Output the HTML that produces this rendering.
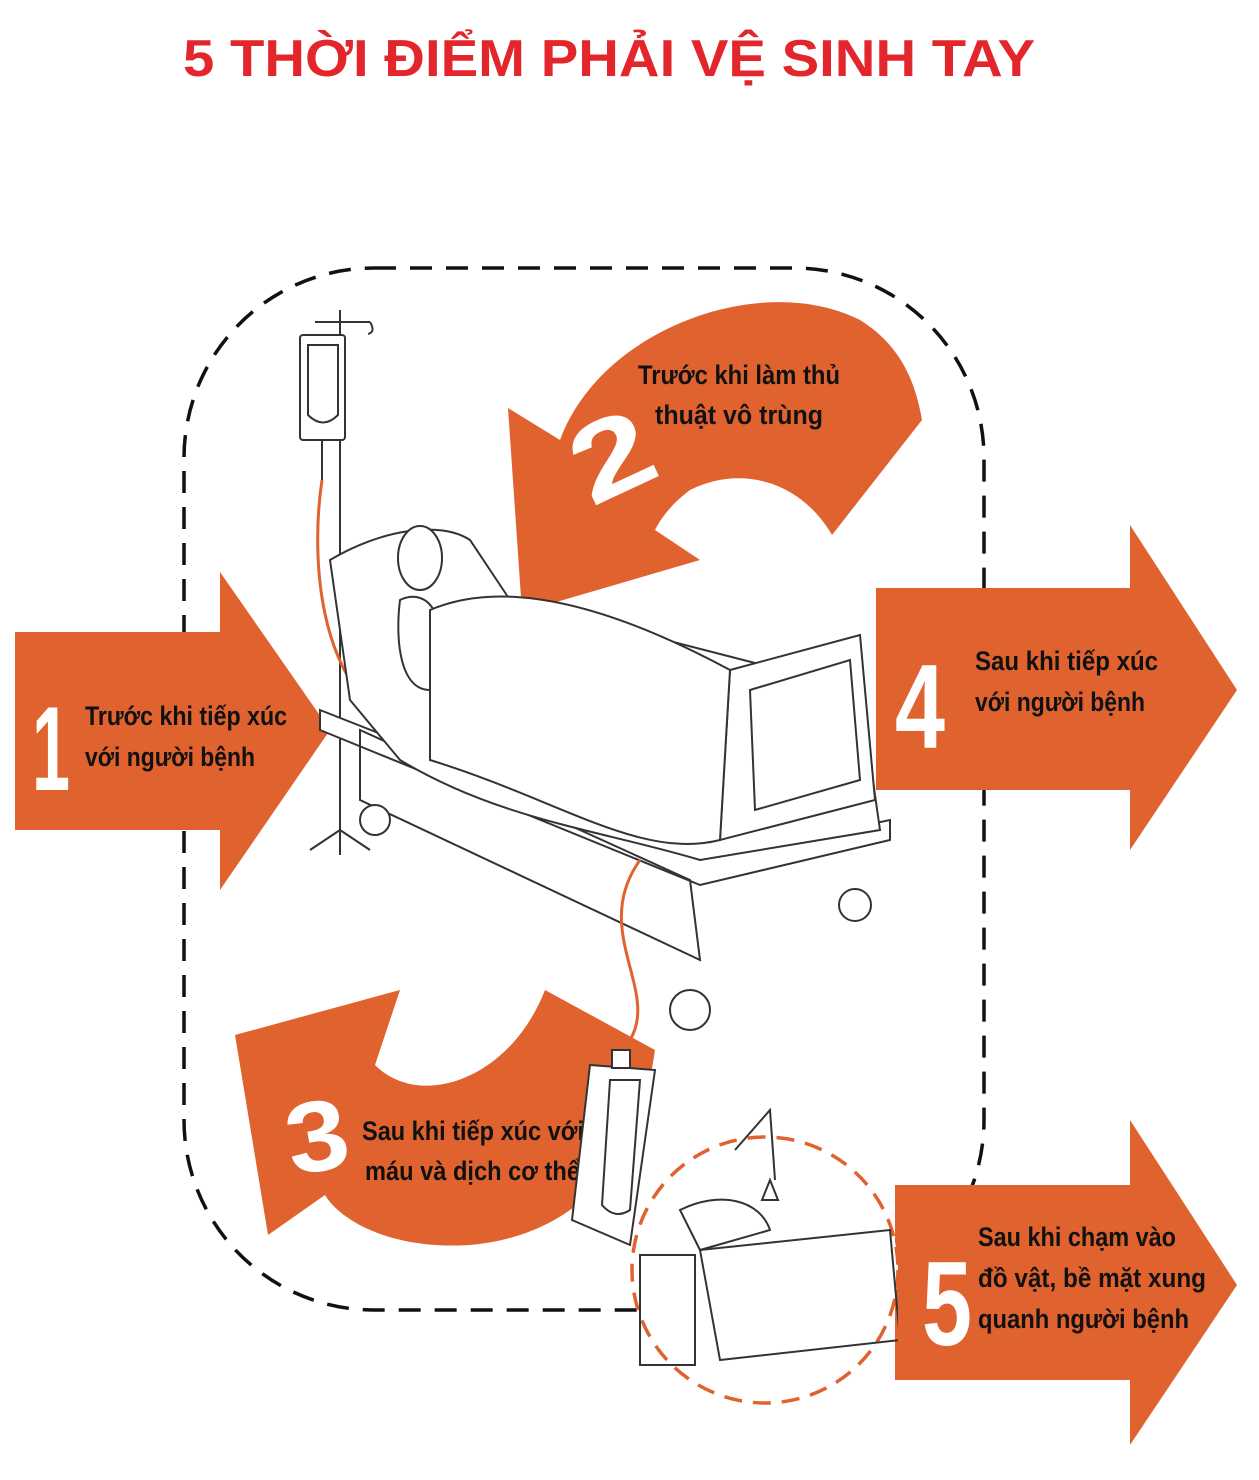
<!DOCTYPE html>
<html><head><meta charset="utf-8"><style>
html,body{margin:0;padding:0;background:#fff}
svg{display:block}
</style></head><body>
<svg width="1259" height="1480" viewBox="0 0 1259 1480" xmlns="http://www.w3.org/2000/svg" font-family="'Liberation Sans Narrow','Liberation Sans',sans-serif">
<rect width="1259" height="1480" fill="#fff"/>
<text x="183" y="76" font-size="52" font-weight="bold" fill="#e3262b" textLength="852" lengthAdjust="spacingAndGlyphs" font-family="'Liberation Sans',sans-serif">5 THỜI ĐIỂM PHẢI VỆ SINH TAY</text>

<!-- dashed rounded rect -->
<rect x="184" y="268" width="800" height="1042" rx="190" fill="none" stroke="#111" stroke-width="3.5" stroke-dasharray="22 14"/>

<!-- arrow 1 -->
<polygon points="15,632 220,632 220,572 330,730 220,890 220,830 15,830" fill="#e0622f"/>
<text x="32" y="790" font-size="120" font-weight="bold" fill="#fff" textLength="38" lengthAdjust="spacingAndGlyphs">1</text>
<text x="85" y="725" font-size="27" font-weight="bold" fill="#111" textLength="202" lengthAdjust="spacingAndGlyphs">Trước khi tiếp xúc</text>
<text x="85" y="766" font-size="27" font-weight="bold" fill="#111" textLength="170" lengthAdjust="spacingAndGlyphs">với người bệnh</text>

<!-- arrow 4 -->
<polygon points="876,588 1130,588 1130,525 1237,690 1130,850 1130,790 876,790" fill="#e0622f"/>
<text x="895" y="748" font-size="120" font-weight="bold" fill="#fff" textLength="50" lengthAdjust="spacingAndGlyphs">4</text>
<text x="975" y="670" font-size="27" font-weight="bold" fill="#111" textLength="183" lengthAdjust="spacingAndGlyphs">Sau khi tiếp xúc</text>
<text x="975" y="711" font-size="27" font-weight="bold" fill="#111" textLength="170" lengthAdjust="spacingAndGlyphs">với người bệnh</text>

<!-- arrow 5 -->
<polygon points="895,1185 1130,1185 1130,1120 1237,1285 1130,1445 1130,1380 895,1380" fill="#e0622f"/>

<!-- arrow 2 curved -->
<path d="M508,408 L560,440 C600,330 760,270 860,320 C900,345 915,380 922,420 L832,535 C800,480 740,465 690,490 C670,505 660,520 655,530 L700,560 L522,612 Z" fill="#e0622f"/>
<text x="570" y="490" font-size="110" font-weight="bold" fill="#fff" transform="rotate(-25 620 450)" textLength="80" lengthAdjust="spacingAndGlyphs">2</text>
<text x="638" y="384" font-size="27" font-weight="bold" fill="#111" textLength="202" lengthAdjust="spacingAndGlyphs">Trước khi làm thủ</text>
<text x="655" y="424" font-size="27" font-weight="bold" fill="#111" textLength="168" lengthAdjust="spacingAndGlyphs">thuật vô trùng</text>

<!-- arrow 3 curved -->
<path d="M235,1035 L400,990 L375,1065 C420,1110 510,1080 545,990 L655,1050 C640,1160 580,1235 470,1245 C390,1250 340,1220 325,1195 L268,1235 Z" fill="#e0622f"/>
<text x="285" y="1170" font-size="100" font-weight="bold" fill="#fff" transform="rotate(-10 320 1130)" textLength="62" lengthAdjust="spacingAndGlyphs">3</text>
<text x="362" y="1140" font-size="27" font-weight="bold" fill="#111" textLength="222" lengthAdjust="spacingAndGlyphs">Sau khi tiếp xúc với</text>
<text x="365" y="1180" font-size="27" font-weight="bold" fill="#111" textLength="215" lengthAdjust="spacingAndGlyphs">máu và dịch cơ thể</text>

<!-- IV stand -->
<g stroke="#333" stroke-width="2" fill="none">
<line x1="340" y1="310" x2="340" y2="830"/>
<line x1="315" y1="322" x2="370" y2="322"/>
<path d="M370,322 q6,10 -2,12"/>
<rect x="300" y="335" width="45" height="105" rx="3" fill="#fff"/>
<path d="M308,345 h30 v70 q-15,15 -30,0 z"/>
<line x1="322" y1="440" x2="322" y2="480"/>
<line x1="340" y1="830" x2="310" y2="850"/><line x1="340" y1="830" x2="370" y2="850"/><line x1="340" y1="830" x2="340" y2="855"/>
</g>
<path d="M322,480 C310,560 320,680 390,720 C430,735 450,710 440,680" stroke="#e0622f" stroke-width="3" fill="none"/>

<!-- bed -->
<g stroke="#333" stroke-width="2" fill="#fff">
<polygon points="320,710 700,860 890,820 890,840 700,885 320,730"/>
<path d="M360,730 L690,880 L700,960 L360,800 Z" fill="none"/>
<circle cx="375" cy="820" r="15"/><circle cx="690" cy="1010" r="20"/><circle cx="855" cy="905" r="16"/>
<path d="M330,560 C380,530 440,520 470,540 L510,600 L860,690 L880,830 L700,860 C600,830 500,820 400,760 L350,700 Z"/>
<path d="M730,670 L860,635 L875,800 L720,840 Z"/>
<path d="M750,690 L850,660 L860,780 L755,810 Z" fill="none"/>
<ellipse cx="420" cy="558" rx="22" ry="32"/>
<path d="M400,600 C420,590 450,600 440,680 L515,740 L505,745 L430,690 C400,690 395,640 400,600 Z"/>
<path d="M430,610 C500,580 600,600 730,670 L720,840 C640,860 560,800 430,760 Z"/>
</g>
<path d="M640,860 C590,930 660,990 630,1040 L625,1060" stroke="#e0622f" stroke-width="3" fill="none"/>
<!-- urine bag -->
<g stroke="#333" stroke-width="2" fill="#fff">
<polygon points="590,1065 655,1070 630,1245 572,1220"/>
<path d="M610,1080 h30 l-10,130 q-15,10 -28,-5 z" fill="none"/>
<rect x="612" y="1050" width="18" height="18"/>
</g>

<!-- dashed circle 5 -->
<circle cx="765" cy="1270" r="133" fill="#fff" stroke="#e0622f" stroke-width="3.5" stroke-dasharray="18 11"/>
<g stroke="#333" stroke-width="2" fill="none">
<path d="M735,1150 L770,1110 L775,1180"/><path d="M770,1180 l-8,20 h16 z"/>
<path d="M680,1210 C720,1190 760,1200 770,1230 L700,1250 Z"/>
<path d="M700,1250 L890,1230 L900,1340 L720,1360 Z"/>
<path d="M640,1255 h55 v110 h-55 z"/>
</g>
<polygon points="895,1185 1130,1185 1130,1120 1237,1285 1130,1445 1130,1380 895,1380" fill="#e0622f" opacity="0"/>
<rect x="898" y="1222" width="12" height="130" fill="#e0622f"/>
<text x="922" y="1345" font-size="120" font-weight="bold" fill="#fff" textLength="50" lengthAdjust="spacingAndGlyphs">5</text>
<text x="978" y="1246" font-size="27" font-weight="bold" fill="#111" textLength="198" lengthAdjust="spacingAndGlyphs">Sau khi chạm vào</text>
<text x="978" y="1287" font-size="27" font-weight="bold" fill="#111" textLength="228" lengthAdjust="spacingAndGlyphs">đồ vật, bề mặt xung</text>
<text x="978" y="1328" font-size="27" font-weight="bold" fill="#111" textLength="211" lengthAdjust="spacingAndGlyphs">quanh người bệnh</text>
</svg>
</body></html>
